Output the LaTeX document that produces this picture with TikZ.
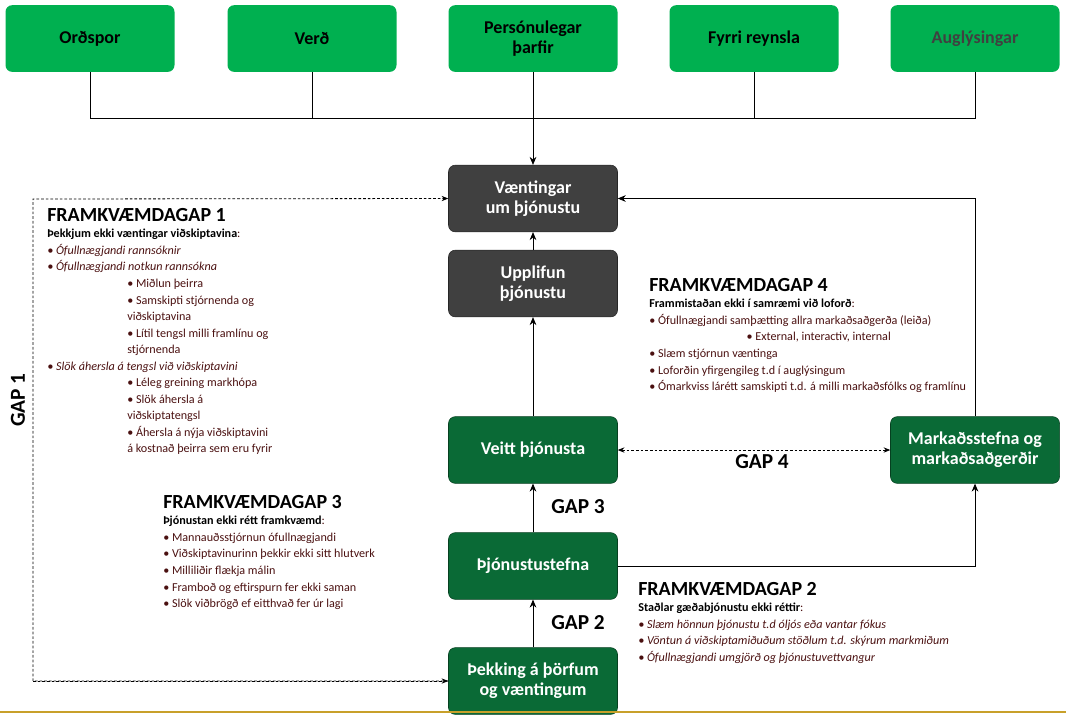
\documentclass[tikz,border=0pt]{standalone}
\usepackage{fontspec}
\setmainfont{Carlito}
\usetikzlibrary{arrows.meta}
\definecolor{lg}{HTML}{00B050}
\definecolor{dg}{HTML}{0A6A36}
\definecolor{gr}{HTML}{404040}
\definecolor{txr}{HTML}{4A1010}
\definecolor{gold}{HTML}{C8A02A}
\tikzset{
 box/.style={rounded corners=5pt,minimum width=126.75pt,minimum height=50pt,align=center,font=\fontsize{13.5}{15}\selectfont\bfseries,text=white},
 topbox/.style={box,fill=lg,text=black},
 graybox/.style={box,fill=gr,draw=gr!60!black},
 greenbox/.style={box,fill=dg,draw=dg!60!black},
 conn/.style={draw=black,line width=0.6pt},
 arr/.style={conn,-{Stealth[length=6pt,width=5pt]}},
 dashline/.style={conn,dashed,dash pattern=on 2pt off 1.5pt},
 gaplbl/.style={font=\fontsize{16}{18}\selectfont\bfseries},
 block/.style={anchor=north west,align=left,inner sep=0pt,font=\fontsize{9.1}{12.4}\selectfont,text=txr},
}
\newcommand{\hd}[1]{{\fontsize{15}{17}\selectfont\bfseries\color{black}#1}}
\newcommand{\lead}[1]{{\bfseries\color{black}#1}}
\begin{document}
\begin{tikzpicture}[x=0.75pt,y=-0.75pt]
\useasboundingbox (0,0) rectangle (1066,719);
% top boxes
\node[topbox] (t1) at (90,38.5) {Orðspor};
\node[topbox] (t2) at (312,38.5) {Verð};
\node[topbox] (t3) at (533,38.5) {Persónulegar\\þarfir};
\node[topbox] (t4) at (754,38.5) {Fyrri reynsla};
\node[topbox,text=gr] (t5) at (975,38.5) {Auglýsingar};
\node[graybox] (v) at (533,198.5) {Væntingar\\um þjónustu};
\node[graybox] (u) at (533,283.5) {Upplifun\\þjónustu};
\node[greenbox] (ve) at (533,450) {Veitt þjónusta};
\node[greenbox] (s) at (533,566) {Þjónustustefna};
\node[greenbox] (k) at (533,681) {Þekking á þörfum\\og væntingum};
\node[greenbox] (m) at (975,450) {Markaðsstefna og\\markaðsaðgerðir};
\coordinate (j) at (533,118);
\foreach \n in {t1,t2,t4,t5}{\draw[conn] (\n.south) |- (j);}
\draw[arr] (t3.south) -- (v.north);
\draw[arr] (u) -- (v);
\draw[arr] (ve) -- (u);
\draw[arr] (s) -- (ve);
\draw[arr] (k) -- (s);
\draw[arr] (m.north) |- (v.east);
\draw[arr] (s.east) -| (m.south);
\draw[dashline,{Stealth[length=5pt,width=4pt]}-{Stealth[length=5pt,width=4pt]}] (ve.east) -- (m.west);
\coordinate (g1a) at (33,681);
\coordinate (g1b) at (33,199);
\draw[dashline,-{Stealth[length=5pt,width=4pt]}] (k.west) -- (g1a) -- (g1b) -- (v.west);
\draw[dashline,-{Stealth[length=5pt,width=4pt]}] (g1a) -- (k.west);
\draw[gold,line width=1.5pt] (0,712) -- (1066,712);
% gap labels
\node[gaplbl,rotate=90] (gap1) at (18,400) {GAP 1};
\node[gaplbl] (gap4) at (762,462) {GAP 4};
\node[gaplbl] (gap3) at (578,507) {GAP 3};
\node[gaplbl] (gap2) at (578,623) {GAP 2};
% blocks
\node[block] (b1) at (47,208) {\hd{FRAMKVÆMDAGAP 1}\\
\lead{Þekkjum ekki væntingar viðskiptavina}:\\
\textit{• Ófullnægjandi rannsóknir}\\
\textit{• Ófullnægjandi notkun rannsókna}\\
\hspace*{60pt}• Miðlun þeirra\\
\hspace*{60pt}• Samskipti stjórnenda og\\
\hspace*{60pt}viðskiptavina\\
\hspace*{60pt}• Lítil tengsl milli framlínu og\\
\hspace*{60pt}stjórnenda\\
\textit{• Slök áhersla á tengsl við viðskiptavini}\\
\hspace*{60pt}• Léleg greining markhópa\\
\hspace*{60pt}• Slök áhersla á\\
\hspace*{60pt}viðskiptatengsl\\
\hspace*{60pt}• Áhersla á nýja viðskiptavini\\
\hspace*{60pt}á kostnað þeirra sem eru fyrir};
\node[block] (b4) at (649,278) {\hd{FRAMKVÆMDAGAP 4}\\
\lead{Frammistaðan ekki í samræmi við loforð}:\\
• Ófullnægjandi samþætting allra markaðsaðgerða (leiða)\\
\hspace*{73pt}• External, interactiv, internal\\
• Slæm stjórnun væntinga\\
• Loforðin yfirgengileg t.d í auglýsingum\\
• Ómarkviss lárétt samskipti t.d. á milli markaðsfólks og framlínu};
\node[block] (b3) at (163,495) {\hd{FRAMKVÆMDAGAP 3}\\
\lead{Þjónustan ekki rétt framkvæmd}:\\
• Mannauðsstjórnun ófullnægjandi\\
• Viðskiptavinurinn þekkir ekki sitt hlutverk\\
• Milliliðir flækja málin\\
• Framboð og eftirspurn fer ekki saman\\
• Slök viðbrögð ef eitthvað fer úr lagi};
\node[block] (b2) at (638,582) {\hd{FRAMKVÆMDAGAP 2}\\
\lead{Staðlar gæðabjónustu ekki réttir}:\\
\textit{• Slæm hönnun þjónustu t.d óljós eða vantar fókus}\\
\textit{• Vöntun á viðskiptamiðuðum stöðlum t.d. skýrum markmiðum}\\
\textit{• Ófullnægjandi umgjörð og þjónustuvettvangur}};
\end{tikzpicture}
\end{document}
